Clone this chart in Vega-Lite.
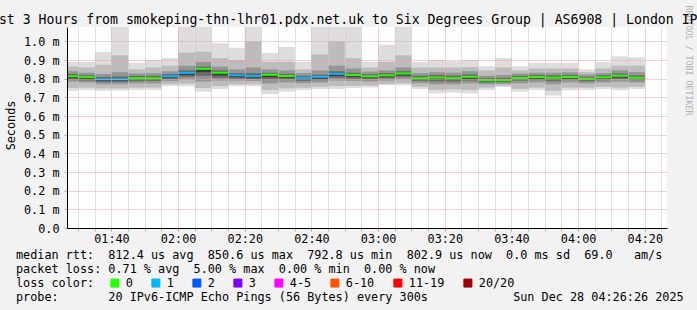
{
  "$schema": "https://vega.github.io/schema/vega-lite/v6.json",
  "width": 600,
  "height": 201,
  "autosize": "none",
  "padding": {"left": 67, "top": 27, "right": 30, "bottom": 82},
  "background": "#f2f2f2",
  "config": {
    "font": "DejaVu Sans Mono",
    "view": {"stroke": null, "fill": "#ffffff"}
  },
  "title": {
    "text": "Last 3 Hours from smokeping-thn-lhr01.pdx.net.uk to Six Degrees Group | AS6908 | London IPv6",
    "anchor": "start",
    "frame": "group",
    "dx": -84,
    "dy": 35,
    "font": "DejaVu Sans Mono",
    "fontSize": 13.2,
    "fontWeight": "normal",
    "color": "#000000",
    "baseline": "alphabetic",
    "offset": 3
  },
  "data": {
    "values": [
      {"t": "2025-12-28T01:25:00", "t2": "2025-12-28T01:30:00", "med": 0.813, "mn": 0.735, "mx": 0.89, "a2": 0.75, "b2": 0.865, "a3": 0.785, "b3": 0.84, "a4": 0.795, "b4": 0.825, "a5": 0.803, "b5": 0.816, "loss": "0"},
      {"t": "2025-12-28T01:30:00", "t2": "2025-12-28T01:35:00", "med": 0.808, "mn": 0.74, "mx": 0.89, "a2": 0.752, "b2": 0.86, "a3": 0.78, "b3": 0.832, "a4": 0.79, "b4": 0.818, "a5": 0.798, "b5": 0.81, "loss": "0"},
      {"t": "2025-12-28T01:35:00", "t2": "2025-12-28T01:40:00", "med": 0.797, "mn": 0.735, "mx": 0.944, "a2": 0.748, "b2": 0.875, "a3": 0.77, "b3": 0.825, "a4": 0.782, "b4": 0.81, "a5": 0.789, "b5": 0.8, "loss": "1"},
      {"t": "2025-12-28T01:40:00", "t2": "2025-12-28T01:45:00", "med": 0.797, "mn": 0.735, "mx": 1.09, "a2": 0.748, "b2": 0.925, "a3": 0.77, "b3": 0.835, "a4": 0.782, "b4": 0.812, "a5": 0.789, "b5": 0.8, "loss": "1"},
      {"t": "2025-12-28T01:45:00", "t2": "2025-12-28T01:50:00", "med": 0.803, "mn": 0.74, "mx": 0.885, "a2": 0.752, "b2": 0.85, "a3": 0.775, "b3": 0.828, "a4": 0.787, "b4": 0.815, "a5": 0.795, "b5": 0.806, "loss": "0"},
      {"t": "2025-12-28T01:50:00", "t2": "2025-12-28T01:55:00", "med": 0.803, "mn": 0.74, "mx": 0.9, "a2": 0.752, "b2": 0.86, "a3": 0.775, "b3": 0.83, "a4": 0.788, "b4": 0.815, "a5": 0.795, "b5": 0.806, "loss": "0"},
      {"t": "2025-12-28T01:55:00", "t2": "2025-12-28T02:00:00", "med": 0.813, "mn": 0.76, "mx": 0.91, "a2": 0.77, "b2": 0.87, "a3": 0.787, "b3": 0.84, "a4": 0.797, "b4": 0.825, "a5": 0.805, "b5": 0.816, "loss": "1"},
      {"t": "2025-12-28T02:00:00", "t2": "2025-12-28T02:05:00", "med": 0.831, "mn": 0.76, "mx": 1.09, "a2": 0.773, "b2": 0.94, "a3": 0.795, "b3": 0.87, "a4": 0.81, "b4": 0.845, "a5": 0.82, "b5": 0.834, "loss": "1"},
      {"t": "2025-12-28T02:05:00", "t2": "2025-12-28T02:10:00", "med": 0.853, "mn": 0.73, "mx": 1.09, "a2": 0.75, "b2": 0.945, "a3": 0.785, "b3": 0.89, "a4": 0.815, "b4": 0.865, "a5": 0.835, "b5": 0.856, "loss": "0"},
      {"t": "2025-12-28T02:10:00", "t2": "2025-12-28T02:15:00", "med": 0.832, "mn": 0.745, "mx": 0.99, "a2": 0.76, "b2": 0.91, "a3": 0.79, "b3": 0.865, "a4": 0.805, "b4": 0.845, "a5": 0.818, "b5": 0.835, "loss": "0"},
      {"t": "2025-12-28T02:15:00", "t2": "2025-12-28T02:20:00", "med": 0.818, "mn": 0.76, "mx": 0.966, "a2": 0.77, "b2": 0.9, "a3": 0.79, "b3": 0.85, "a4": 0.8, "b4": 0.83, "a5": 0.808, "b5": 0.821, "loss": "1"},
      {"t": "2025-12-28T02:20:00", "t2": "2025-12-28T02:25:00", "med": 0.814, "mn": 0.76, "mx": 1.09, "a2": 0.77, "b2": 1.0, "a3": 0.788, "b3": 0.86, "a4": 0.798, "b4": 0.83, "a5": 0.805, "b5": 0.817, "loss": "1"},
      {"t": "2025-12-28T02:25:00", "t2": "2025-12-28T02:30:00", "med": 0.821, "mn": 0.717, "mx": 0.938, "a2": 0.74, "b2": 0.89, "a3": 0.775, "b3": 0.85, "a4": 0.795, "b4": 0.832, "a5": 0.808, "b5": 0.824, "loss": "0"},
      {"t": "2025-12-28T02:30:00", "t2": "2025-12-28T02:35:00", "med": 0.814, "mn": 0.73, "mx": 0.97, "a2": 0.748, "b2": 0.89, "a3": 0.78, "b3": 0.845, "a4": 0.795, "b4": 0.826, "a5": 0.804, "b5": 0.817, "loss": "0"},
      {"t": "2025-12-28T02:35:00", "t2": "2025-12-28T02:40:00", "med": 0.804, "mn": 0.74, "mx": 0.89, "a2": 0.752, "b2": 0.85, "a3": 0.776, "b3": 0.83, "a4": 0.788, "b4": 0.815, "a5": 0.796, "b5": 0.807, "loss": "1"},
      {"t": "2025-12-28T02:40:00", "t2": "2025-12-28T02:45:00", "med": 0.81, "mn": 0.745, "mx": 1.09, "a2": 0.757, "b2": 0.93, "a3": 0.78, "b3": 0.845, "a4": 0.792, "b4": 0.822, "a5": 0.8, "b5": 0.813, "loss": "1"},
      {"t": "2025-12-28T02:45:00", "t2": "2025-12-28T02:50:00", "med": 0.826, "mn": 0.745, "mx": 1.09, "a2": 0.76, "b2": 1.0, "a3": 0.79, "b3": 0.87, "a4": 0.805, "b4": 0.84, "a5": 0.815, "b5": 0.829, "loss": "1"},
      {"t": "2025-12-28T02:50:00", "t2": "2025-12-28T02:55:00", "med": 0.82, "mn": 0.75, "mx": 1.09, "a2": 0.762, "b2": 0.91, "a3": 0.788, "b3": 0.855, "a4": 0.8, "b4": 0.832, "a5": 0.81, "b5": 0.823, "loss": "0"},
      {"t": "2025-12-28T02:55:00", "t2": "2025-12-28T03:00:00", "med": 0.813, "mn": 0.753, "mx": 0.89, "a2": 0.763, "b2": 0.86, "a3": 0.785, "b3": 0.838, "a4": 0.797, "b4": 0.824, "a5": 0.805, "b5": 0.816, "loss": "0"},
      {"t": "2025-12-28T03:00:00", "t2": "2025-12-28T03:05:00", "med": 0.818, "mn": 0.765, "mx": 0.982, "a2": 0.772, "b2": 0.89, "a3": 0.79, "b3": 0.845, "a4": 0.802, "b4": 0.83, "a5": 0.81, "b5": 0.821, "loss": "0"},
      {"t": "2025-12-28T03:05:00", "t2": "2025-12-28T03:10:00", "med": 0.828, "mn": 0.765, "mx": 1.09, "a2": 0.775, "b2": 0.925, "a3": 0.797, "b3": 0.86, "a4": 0.81, "b4": 0.84, "a5": 0.818, "b5": 0.831, "loss": "0"},
      {"t": "2025-12-28T03:10:00", "t2": "2025-12-28T03:15:00", "med": 0.803, "mn": 0.745, "mx": 0.89, "a2": 0.757, "b2": 0.86, "a3": 0.776, "b3": 0.83, "a4": 0.788, "b4": 0.815, "a5": 0.795, "b5": 0.806, "loss": "0"},
      {"t": "2025-12-28T03:15:00", "t2": "2025-12-28T03:20:00", "med": 0.806, "mn": 0.722, "mx": 0.9, "a2": 0.74, "b2": 0.86, "a3": 0.77, "b3": 0.835, "a4": 0.785, "b4": 0.82, "a5": 0.796, "b5": 0.809, "loss": "0"},
      {"t": "2025-12-28T03:20:00", "t2": "2025-12-28T03:25:00", "med": 0.803, "mn": 0.726, "mx": 0.894, "a2": 0.743, "b2": 0.86, "a3": 0.77, "b3": 0.832, "a4": 0.784, "b4": 0.816, "a5": 0.794, "b5": 0.806, "loss": "0"},
      {"t": "2025-12-28T03:25:00", "t2": "2025-12-28T03:30:00", "med": 0.81, "mn": 0.722, "mx": 0.9, "a2": 0.74, "b2": 0.862, "a3": 0.775, "b3": 0.84, "a4": 0.79, "b4": 0.823, "a5": 0.8, "b5": 0.813, "loss": "0"},
      {"t": "2025-12-28T03:30:00", "t2": "2025-12-28T03:35:00", "med": 0.792, "mn": 0.74, "mx": 0.867, "a2": 0.752, "b2": 0.845, "a3": 0.77, "b3": 0.815, "a4": 0.78, "b4": 0.803, "a5": 0.786, "b5": 0.795, "loss": "0"},
      {"t": "2025-12-28T03:35:00", "t2": "2025-12-28T03:40:00", "med": 0.792, "mn": 0.755, "mx": 0.911, "a2": 0.763, "b2": 0.86, "a3": 0.772, "b3": 0.82, "a4": 0.781, "b4": 0.804, "a5": 0.786, "b5": 0.795, "loss": "0"},
      {"t": "2025-12-28T03:40:00", "t2": "2025-12-28T03:45:00", "med": 0.804, "mn": 0.73, "mx": 0.867, "a2": 0.745, "b2": 0.845, "a3": 0.776, "b3": 0.828, "a4": 0.79, "b4": 0.815, "a5": 0.797, "b5": 0.807, "loss": "0"},
      {"t": "2025-12-28T03:45:00", "t2": "2025-12-28T03:50:00", "med": 0.809, "mn": 0.74, "mx": 0.885, "a2": 0.752, "b2": 0.855, "a3": 0.78, "b3": 0.832, "a4": 0.793, "b4": 0.82, "a5": 0.801, "b5": 0.812, "loss": "0"},
      {"t": "2025-12-28T03:50:00", "t2": "2025-12-28T03:55:00", "med": 0.805, "mn": 0.71, "mx": 0.885, "a2": 0.735, "b2": 0.855, "a3": 0.77, "b3": 0.832, "a4": 0.786, "b4": 0.818, "a5": 0.796, "b5": 0.808, "loss": "0"},
      {"t": "2025-12-28T03:55:00", "t2": "2025-12-28T04:00:00", "med": 0.809, "mn": 0.738, "mx": 0.885, "a2": 0.752, "b2": 0.855, "a3": 0.78, "b3": 0.834, "a4": 0.793, "b4": 0.82, "a5": 0.801, "b5": 0.812, "loss": "0"},
      {"t": "2025-12-28T04:00:00", "t2": "2025-12-28T04:05:00", "med": 0.8, "mn": 0.74, "mx": 0.85, "a2": 0.752, "b2": 0.835, "a3": 0.775, "b3": 0.822, "a4": 0.786, "b4": 0.81, "a5": 0.793, "b5": 0.803, "loss": "0"},
      {"t": "2025-12-28T04:05:00", "t2": "2025-12-28T04:10:00", "med": 0.807, "mn": 0.745, "mx": 0.89, "a2": 0.756, "b2": 0.855, "a3": 0.78, "b3": 0.83, "a4": 0.792, "b4": 0.818, "a5": 0.8, "b5": 0.81, "loss": "0"},
      {"t": "2025-12-28T04:10:00", "t2": "2025-12-28T04:15:00", "med": 0.816, "mn": 0.738, "mx": 0.92, "a2": 0.752, "b2": 0.87, "a3": 0.784, "b3": 0.845, "a4": 0.798, "b4": 0.828, "a5": 0.807, "b5": 0.819, "loss": "0"},
      {"t": "2025-12-28T04:15:00", "t2": "2025-12-28T04:20:00", "med": 0.805, "mn": 0.745, "mx": 0.915, "a2": 0.756, "b2": 0.87, "a3": 0.78, "b3": 0.835, "a4": 0.792, "b4": 0.818, "a5": 0.799, "b5": 0.808, "loss": "0"}
    ]
  },
  "encoding": {
    "x": {
      "field": "t",
      "type": "temporal",
      "scale": {
        "domain": [
          {"year": 2025, "month": 12, "date": 28, "hours": 1, "minutes": 26, "seconds": 40},
          {"year": 2025, "month": 12, "date": 28, "hours": 4, "minutes": 26, "seconds": 40}
        ],
        "nice": false
      },
      "axis": {
        "tickCount": 40,
        "values": [
          {"year": 2025, "month": 12, "date": 28, "hours": 1, "minutes": 30},
          {"year": 2025, "month": 12, "date": 28, "hours": 1, "minutes": 35},
          {"year": 2025, "month": 12, "date": 28, "hours": 1, "minutes": 40},
          {"year": 2025, "month": 12, "date": 28, "hours": 1, "minutes": 45},
          {"year": 2025, "month": 12, "date": 28, "hours": 1, "minutes": 50},
          {"year": 2025, "month": 12, "date": 28, "hours": 1, "minutes": 55},
          {"year": 2025, "month": 12, "date": 28, "hours": 2, "minutes": 0},
          {"year": 2025, "month": 12, "date": 28, "hours": 2, "minutes": 5},
          {"year": 2025, "month": 12, "date": 28, "hours": 2, "minutes": 10},
          {"year": 2025, "month": 12, "date": 28, "hours": 2, "minutes": 15},
          {"year": 2025, "month": 12, "date": 28, "hours": 2, "minutes": 20},
          {"year": 2025, "month": 12, "date": 28, "hours": 2, "minutes": 25},
          {"year": 2025, "month": 12, "date": 28, "hours": 2, "minutes": 30},
          {"year": 2025, "month": 12, "date": 28, "hours": 2, "minutes": 35},
          {"year": 2025, "month": 12, "date": 28, "hours": 2, "minutes": 40},
          {"year": 2025, "month": 12, "date": 28, "hours": 2, "minutes": 45},
          {"year": 2025, "month": 12, "date": 28, "hours": 2, "minutes": 50},
          {"year": 2025, "month": 12, "date": 28, "hours": 2, "minutes": 55},
          {"year": 2025, "month": 12, "date": 28, "hours": 3, "minutes": 0},
          {"year": 2025, "month": 12, "date": 28, "hours": 3, "minutes": 5},
          {"year": 2025, "month": 12, "date": 28, "hours": 3, "minutes": 10},
          {"year": 2025, "month": 12, "date": 28, "hours": 3, "minutes": 15},
          {"year": 2025, "month": 12, "date": 28, "hours": 3, "minutes": 20},
          {"year": 2025, "month": 12, "date": 28, "hours": 3, "minutes": 25},
          {"year": 2025, "month": 12, "date": 28, "hours": 3, "minutes": 30},
          {"year": 2025, "month": 12, "date": 28, "hours": 3, "minutes": 35},
          {"year": 2025, "month": 12, "date": 28, "hours": 3, "minutes": 40},
          {"year": 2025, "month": 12, "date": 28, "hours": 3, "minutes": 45},
          {"year": 2025, "month": 12, "date": 28, "hours": 3, "minutes": 50},
          {"year": 2025, "month": 12, "date": 28, "hours": 3, "minutes": 55},
          {"year": 2025, "month": 12, "date": 28, "hours": 4, "minutes": 0},
          {"year": 2025, "month": 12, "date": 28, "hours": 4, "minutes": 5},
          {"year": 2025, "month": 12, "date": 28, "hours": 4, "minutes": 10},
          {"year": 2025, "month": 12, "date": 28, "hours": 4, "minutes": 15},
          {"year": 2025, "month": 12, "date": 28, "hours": 4, "minutes": 20},
          {"year": 2025, "month": 12, "date": 28, "hours": 4, "minutes": 25}
        ],
        "format": "%H:%M",
        "labelExpr": "minutes(datum.value) % 20 === 0 ? datum.label : ''",
        "labelFont": "DejaVu Sans Mono",
        "labelFontSize": 11.8,
        "labelColor": "#000000",
        "labelPadding": 2,
        "labelOverlap": false,
        "labelFlush": false,
        "tickSize": 3,
        "tickColor": {"condition": {"test": "minutes(datum.value) % 20 === 0", "value": "#f08080"}, "value": "#b8b8b8"},
        "grid": true,
        "gridColor": {"condition": {"test": "minutes(datum.value) % 20 === 0", "value": "#f2a0a0"}, "value": "#c4c4c4"},
        "gridDash": [1, 1],
        "gridWidth": 1,
        "gridOpacity": 1,
        "domainColor": "#000000",
        "domainWidth": 1,
        "zindex": 1,
        "title": [
          "median rtt:\u00a0\u00a0812.4 us avg\u00a0\u00a0850.6 us max\u00a0\u00a0792.8 us min\u00a0\u00a0802.9 us now\u00a0\u00a00.0 ms sd\u00a0\u00a069.0\u00a0\u00a0\u00a0am/s",
          "packet loss: 0.71 % avg\u00a0\u00a05.00 % max\u00a0\u00a00.00 % min\u00a0\u00a00.00 % now",
          "loss color:",
          "probe:\u00a0\u00a0\u00a0\u00a0\u00a0\u00a0\u00a020 IPv6-ICMP Echo Pings (56 Bytes) every 300s\u00a0\u00a0\u00a0\u00a0\u00a0\u00a0\u00a0\u00a0\u00a0\u00a0\u00a0\u00a0Sun Dec 28 04:26:26 2025"
        ],
        "titleFont": "DejaVu Sans Mono",
        "titleFontSize": 11.8,
        "titleFontWeight": "normal",
        "titleColor": "#000000",
        "titleAnchor": "start",
        "titleAlign": "left",
        "titleBaseline": "alphabetic",
        "titleX": -51.5,
        "titleY": 30,
        "titleLineHeight": 14
      }
    },
    "x2": {"field": "t2"}
  },
  "layer": [
    {
      "layer": [
        {
          "mark": {"type": "rect", "color": "#dddddd", "clip": true},
          "encoding": {
            "y": {
              "field": "mn",
              "type": "quantitative",
              "scale": {"domain": [0, 1.077], "nice": false, "zero": true},
              "axis": {
                "tickCount": 12,
                "values": [0, 0.1, 0.2, 0.3, 0.4, 0.5, 0.6, 0.7, 0.8, 0.9, 1.0],
                "labelExpr": "datum.value == 0 ? '0.0' : format(datum.value, '.1f') + ' m'",
                "labelFont": "DejaVu Sans Mono",
                "labelFontSize": 11.8,
                "labelColor": "#000000",
                "labelPadding": 5,
                "labelOverlap": false,
                "tickSize": 3,
                "tickColor": "#b0b0b0",
                "grid": true,
                "gridColor": "#f2a0a0",
                "gridDash": [1, 1],
                "gridOpacity": 1,
                "domainColor": "#000000",
                "zindex": 1,
                "title": "Seconds",
                "titleFont": "DejaVu Sans Mono",
                "titleFontSize": 11.8,
                "titleFontWeight": "normal",
                "titleColor": "#000000",
                "titleAngle": 270,
                "titleAlign": "center",
                "titleBaseline": "middle",
                "titleX": -57,
                "titleY": 98
              }
            },
            "y2": {"field": "mx"}
          }
        },
        {
          "mark": {"type": "rect", "color": "#bcbcbc", "clip": true},
          "encoding": {
            "y": {"field": "a2", "type": "quantitative"},
            "y2": {"field": "b2"}
          }
        },
        {
          "mark": {"type": "rect", "color": "#959595", "clip": true},
          "encoding": {
            "y": {"field": "a3", "type": "quantitative"},
            "y2": {"field": "b3"}
          }
        },
        {
          "mark": {"type": "rect", "color": "#6a6a6a", "clip": true},
          "encoding": {
            "y": {"field": "a4", "type": "quantitative"},
            "y2": {"field": "b4"}
          }
        },
        {
          "mark": {"type": "rect", "color": "#3a3a3a", "clip": true},
          "encoding": {
            "y": {"field": "a5", "type": "quantitative"},
            "y2": {"field": "b5"}
          }
        }
      ]
    },
    {
      "mark": {"type": "rule", "strokeWidth": 2, "strokeCap": "butt", "clip": true},
      "encoding": {
        "y": {
          "field": "med",
          "type": "quantitative",
          "axis": {
            "orient": "right",
            "domain": false,
            "ticks": false,
            "labels": false,
            "grid": false,
            "title": "RRDTOOL / TOBI OETIKER",
            "titleFont": "DejaVu Sans Mono",
            "titleFontSize": 8.3,
            "titleFontWeight": "normal",
            "titleColor": "#b0b0b0",
            "titleAngle": 90,
            "titleAlign": "center",
            "titleBaseline": "middle",
            "titleX": 20,
            "titleY": 33
          }
        },
        "color": {
          "field": "loss",
          "type": "nominal",
          "scale": {
            "domain": ["0", "1", "2", "3", "4-5", "6-10", "11-19", "20/20"],
            "range": ["#26ff00", "#00b8ff", "#0059ff", "#7e00ff", "#ff00ff", "#ff5500", "#ff0000", "#a00000"]
          },
          "legend": {
            "orient": "none",
            "legendX": 42,
            "legendY": 250,
            "direction": "horizontal",
            "columns": 8,
            "title": null,
            "padding": 0,
            "symbolType": "square",
            "symbolSize": 64,
            "symbolStrokeColor": "#000000",
            "symbolStrokeWidth": 1,
            "labelFont": "DejaVu Sans Mono",
            "labelFontSize": 11.8,
            "labelColor": "#000000",
            "labelOffset": 5,
            "columnPadding": 16,
            "encode": {
              "symbols": {
                "update": {
                  "fill": {"scale": "color", "field": "value"},
                  "stroke": {"value": "#000000"},
                  "strokeWidth": {"value": 1},
                  "fillOpacity": {"value": 1},
                  "opacity": {"value": 1}
                }
              }
            }
          }
        }
      }
    }
  ],
  "resolve": {"axis": {"y": "independent"}}
}
